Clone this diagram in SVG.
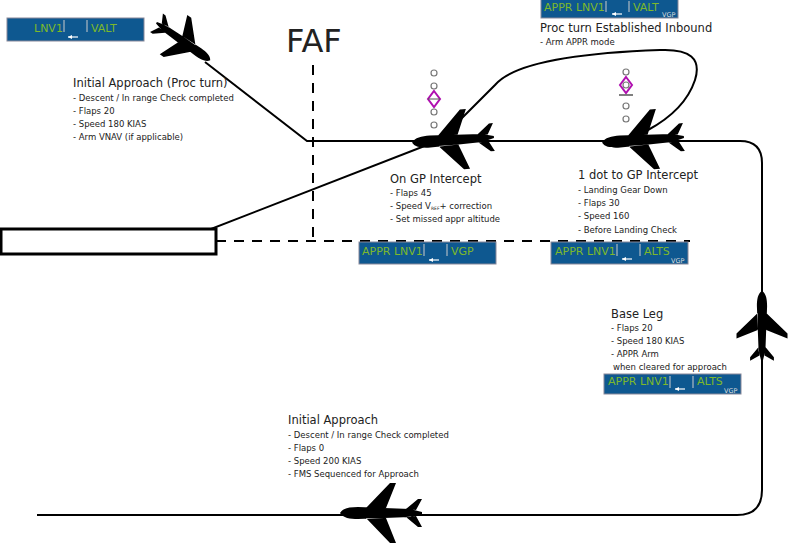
<svg xmlns="http://www.w3.org/2000/svg" width="800" height="544" viewBox="0 0 800 544">
<style>
text{font-family:"DejaVu Sans",sans-serif;fill:#222}
.t{font-size:11.5px}
.s{font-size:8.5px}
.ln{fill:none;stroke:#000;stroke-width:2}
.d{fill:none;stroke:#000;stroke-width:2;stroke-dasharray:10,8}
.box{fill:#0e5890;stroke:#889}
.g{font-size:11px;fill:#7db82b}
.v{font-size:6.5px;fill:#ddd}
.sep{stroke:#ccc;stroke-width:1}
.dot{fill:#fff;stroke:#777;stroke-width:1.2}
.dia{fill:none;stroke:#b010b0;stroke-width:2}
</style>
<defs>
<path id="pl" fill="#000" d="M-40,0 C-37,-5 -30,-6 -22,-6 L30,-4 L42,-1 L42,1 L30,4 L-22,6 C-30,6 -37,5 -40,0 Z M-14,-5 L10,-30 L16,-30 L6,-5 Z M-14,5 L10,30 L16,30 L6,5 Z M26,-4 L38,-14 L42,-14 L36,-3 Z M26,4 L38,14 L42,14 L36,3 Z"/>
<g id="ar"><line x1="0" y1="0" x2="10" y2="0" stroke="#fff" stroke-width="1.2"/><path d="M0,0 L4,-2 L4,2 Z" fill="#fff"/></g>
</defs>
<g id="connectors">
<path class="ln" d="M205,62 L307,141 L740,141 Q762,141 762,163 L762,490 Q762,515 737,515 L37,515"/>
<path class="ln" d="M180,241 L440,140"/>
<path class="ln" d="M450,130 L495,85 Q520,55 660,50 Q705,48 695,80 Q685,110 648,130"/>
<path class="d" d="M313,65 L313,241"/>
<path class="d" d="M216,241 L690,241"/>
</g>
<g id="runway"><rect x="1" y="229" width="215" height="25" fill="#fff" stroke="#000" stroke-width="3"/></g>
<g id="planes">
<use href="#pl" transform="translate(184,42) rotate(215) scale(0.8)"/>
<use href="#pl" transform="translate(452,140) rotate(-4)"/>
<use href="#pl" transform="translate(642,140) rotate(-4)"/>
<use href="#pl" transform="translate(762,325) rotate(90) scale(0.85)"/>
<use href="#pl" transform="translate(380,513)"/>
</g>
<g id="gs1">
<circle class="dot" cx="434" cy="73" r="3"/><circle class="dot" cx="434" cy="86" r="3"/>
<path class="dia" d="M434,91 L440,99 L434,107 L428,99 Z"/><line x1="428" y1="99" x2="440" y2="99" stroke="#555"/>
<circle class="dot" cx="434" cy="112" r="3"/><circle class="dot" cx="434" cy="125" r="3"/>
</g>
<g id="gs2">
<circle class="dot" cx="626" cy="72" r="3"/>
<path class="dia" d="M626,77 L632,85 L626,93 L620,85 Z"/><circle class="dot" cx="626" cy="85" r="3"/>
<line x1="619" y1="95" x2="633" y2="95" stroke="#555" stroke-width="1.5"/>
<circle class="dot" cx="626" cy="106" r="3"/><circle class="dot" cx="626" cy="119" r="3"/>
</g>
<g id="faf"><text x="286" y="52" style="font-size:32px">FAF</text></g>
<g id="d1"><rect class="box" x="7" y="18" width="137" height="23"/>
<text class="g" x="34" y="32">LNV1</text><line class="sep" x1="64" y1="20" x2="64" y2="32"/><line class="sep" x1="87" y1="20" x2="87" y2="32"/>
<text class="g" x="91" y="32">VALT</text><use href="#ar" transform="translate(68,37)"/></g>
<g id="d2"><rect class="box" x="541" y="-3" width="137" height="21"/>
<text class="g" x="544" y="11">APPR LNV1</text><line class="sep" x1="606" y1="1" x2="606" y2="12"/><line class="sep" x1="629" y1="1" x2="629" y2="12"/>
<text class="g" x="633" y="11">VALT</text><text class="v" x="662" y="17">VGP</text><use href="#ar" transform="translate(612,14)"/></g>
<g id="d3"><rect class="box" x="359" y="242" width="137" height="22"/>
<text class="g" x="362" y="255">APPR LNV1</text><line class="sep" x1="424" y1="244" x2="424" y2="256"/><line class="sep" x1="447" y1="244" x2="447" y2="256"/>
<text class="g" x="451" y="255">VGP</text><use href="#ar" transform="translate(429,260)"/></g>
<g id="d4"><rect class="box" x="551" y="242" width="137" height="22"/>
<text class="g" x="555" y="255">APPR LNV1</text><line class="sep" x1="617" y1="244" x2="617" y2="256"/><line class="sep" x1="640" y1="244" x2="640" y2="256"/>
<text class="g" x="644" y="255">ALTS</text><text class="v" x="671" y="263">VGP</text><use href="#ar" transform="translate(622,259)"/></g>
<g id="d5"><rect class="box" x="604" y="374" width="137" height="20"/>
<text class="g" x="608" y="385">APPR LNV1</text><line class="sep" x1="670" y1="376" x2="670" y2="388"/><line class="sep" x1="693" y1="376" x2="693" y2="388"/>
<text class="g" x="697" y="385">ALTS</text><text class="v" x="724" y="393">VGP</text><use href="#ar" transform="translate(675,389)"/></g>
<g id="txt1"><text class="t" x="73" y="87">Initial Approach (Proc turn)</text>
<text class="s" x="73" y="101">- Descent / In range Check completed</text>
<text class="s" x="73" y="114">- Flaps 20</text>
<text class="s" x="73" y="127">- Speed 180 KIAS</text>
<text class="s" x="73" y="140">- Arm VNAV (if applicable)</text></g>
<g id="txt2"><text class="t" x="540" y="32">Proc turn Established Inbound</text>
<text class="s" x="540" y="45">- Arm APPR mode</text></g>
<g id="txt3"><text class="t" x="390" y="183">On GP Intercept</text>
<text class="s" x="390" y="196">- Flaps 45</text>
<text class="s" x="390" y="209">- Speed V<tspan style="font-size:4.5px" dy="1">REF</tspan><tspan dy="-1">+ correction</tspan></text>
<text class="s" x="390" y="222">- Set missed appr altitude</text></g>
<g id="txt4"><text class="t" x="578" y="179">1 dot to GP Intercept</text>
<text class="s" x="578" y="193">- Landing Gear Down</text>
<text class="s" x="578" y="206">- Flaps 30</text>
<text class="s" x="578" y="219">- Speed 160</text>
<text class="s" x="578" y="233">- Before Landing Check</text></g>
<g id="txt5"><text class="t" x="611" y="318">Base Leg</text>
<text class="s" x="611" y="331">- Flaps 20</text>
<text class="s" x="611" y="344">- Speed 180 KIAS</text>
<text class="s" x="611" y="357">- APPR Arm</text>
<text class="s" x="613" y="370">when cleared  for approach</text></g>
<g id="txt6"><text class="t" x="288" y="424">Initial Approach</text>
<text class="s" x="288" y="438">- Descent / In range Check completed</text>
<text class="s" x="288" y="451">- Flaps 0</text>
<text class="s" x="288" y="464">- Speed 200 KIAS</text>
<text class="s" x="288" y="477">- FMS Sequenced for Approach</text></g>
</svg>
